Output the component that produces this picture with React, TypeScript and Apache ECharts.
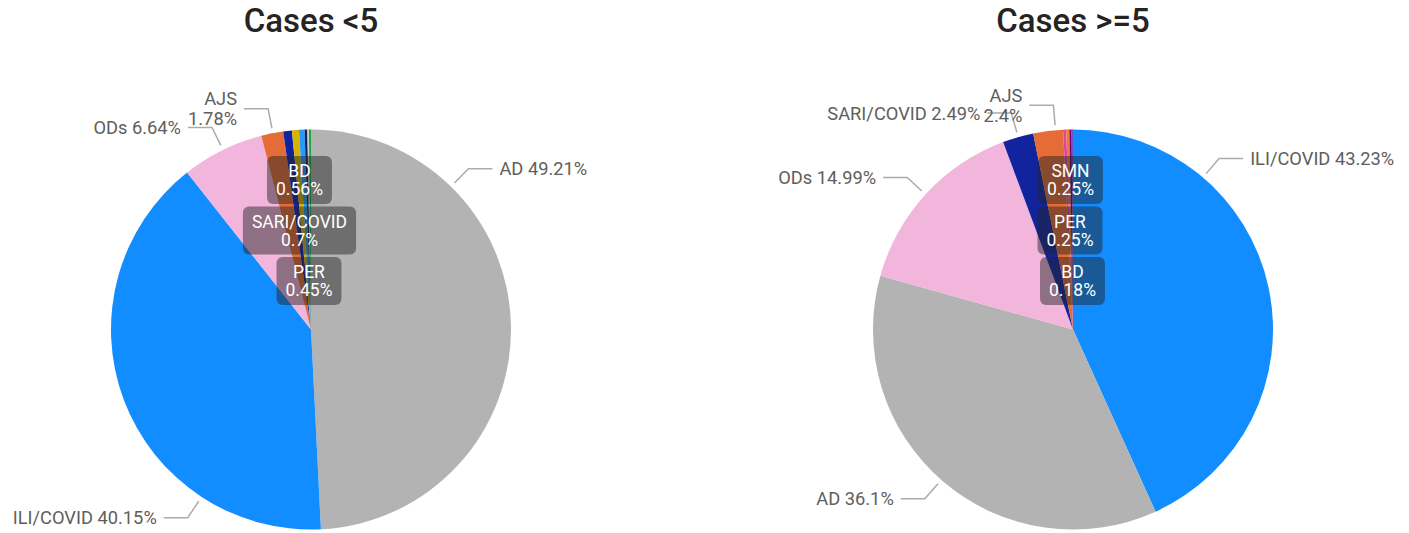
import React, { useEffect, useRef } from 'react';
import * as echarts from 'echarts';

// ---------- data ----------
const leftTitle = 'Cases <5';
const rightTitle = 'Cases >=5';

const leftNames = ['AD', 'ILI/COVID', 'ODs', 'AJS', 'SARI/COVID', 'BD', 'PER', 'SMN', 'NNT', 'AFP'];
const leftValues = [49.21, 40.15, 6.64, 1.78, 0.7, 0.56, 0.45, 0.22, 0.12, 0.17];
const leftColors = ['#B3B3B3', '#118DFF', '#F2B5DC', '#E66C37', '#12239E', '#D9B300', '#2A9BF5', '#1B1F5E', '#D0D0D0', '#1AAB40'];

const rightNames = ['ILI/COVID', 'AD', 'ODs', 'SARI/COVID', 'AJS', 'SMN', 'PER', 'BD', 'NNT'];
const rightValues = [43.23, 36.1, 14.99, 2.49, 2.4, 0.25, 0.25, 0.18, 0.11];
const rightColors = ['#118DFF', '#B3B3B3', '#F2B5DC', '#12239E', '#E66C37', '#E044A7', '#EE7B30', '#6B007B', '#744EC2'];

// ---------- layout ----------
type Spec =
  | { kind: 'out'; angle: number; side: 'left' | 'right'; wrap?: boolean }
  | { kind: 'box'; dx: number; dy: number };

const leftSpecs: Record<string, Spec> = {
  'AD': { kind: 'out', angle: 44.4, side: 'right' },
  'ILI/COVID': { kind: 'out', angle: 213.2, side: 'left' },
  'ODs': { kind: 'out', angle: 333.9, side: 'left' },
  'AJS': { kind: 'out', angle: 349, side: 'left', wrap: true },
  'BD': { kind: 'box', dx: -11.5, dy: -149.5 },
  'SARI/COVID': { kind: 'box', dx: -11.5, dy: -99 },
  'PER': { kind: 'box', dx: -2, dy: -48.5 },
};

const rightSpecs: Record<string, Spec> = {
  'ILI/COVID': { kind: 'out', angle: 40.5, side: 'right' },
  'AD': { kind: 'out', angle: 221.2, side: 'left' },
  'ODs': { kind: 'out', angle: 312.5, side: 'left' },
  'SARI/COVID': { kind: 'out', angle: 344.1, side: 'left' },
  'AJS': { kind: 'out', angle: 355, side: 'left', wrap: true },
  'SMN': { kind: 'box', dx: -2.5, dy: -149.5 },
  'PER': { kind: 'box', dx: -3, dy: -99 },
  'BD': { kind: 'box', dx: -0.5, dy: -48.5 },
};

const LEFT_CENTER = [311, 329.5];
const RIGHT_CENTER = [1073, 329.5];
const RADIUS = 200;
const ANCHOR_GAP = 5;
const ELBOW = 20;
const HLEN = 24;
const TEXT_GAP = 7;

const FONT = 'Roboto, "Noto Sans", sans-serif';
const LABEL_COLOR = '#605E5C';
const LABEL_SIZE = 18.3;

function buildData(names: string[], values: number[], colors: string[], specs: Record<string, Spec>) {
  return names.map((name, i) => {
    const spec = specs[name];
    const item: any = { name, value: values[i], itemStyle: { color: colors[i] } };
    if (!spec) {
      item.label = { show: false };
      item.labelLine = { show: false };
    } else if (spec.kind === 'box') {
      item.label = {
        show: true,
        position: 'inside',
        formatter: `${name}\n${values[i]}%`,
        color: '#FFFFFF',
        backgroundColor: 'rgba(35,35,35,0.48)',
        borderRadius: 6,
        padding: [6, 9, 6, 9],
        lineHeight: 18,
        fontSize: 17.5,
        fontFamily: FONT,
        align: 'center',
      };
      item.labelLine = { show: false };
    } else {
      item.label = {
        show: true,
        position: 'outside',
        formatter: spec.wrap ? `${name}\n${values[i]}%` : `${name} ${values[i]}%`,
        color: LABEL_COLOR,
        fontSize: LABEL_SIZE,
        lineHeight: 20,
        fontFamily: FONT,
      };
      item.labelLine = { show: true };
    }
    return item;
  });
}

function makeLabelLayout(names: string[], specs: Record<string, Spec>, center: number[]) {
  return (params: any) => {
    const spec = specs[names[params.dataIndex]];
    if (!spec) return {};
    const [cx, cy] = center;
    if (spec.kind === 'box') {
      return { x: cx + spec.dx, y: cy + spec.dy, align: 'center', verticalAlign: 'middle' };
    }
    const a = (spec.angle * Math.PI) / 180;
    const ux = Math.sin(a);
    const uy = -Math.cos(a);
    const p0 = [cx + ux * (RADIUS + ANCHOR_GAP), cy + uy * (RADIUS + ANCHOR_GAP)];
    const p1 = [p0[0] + ux * ELBOW, p0[1] + uy * ELBOW];
    const dir = spec.side === 'right' ? 1 : -1;
    const p2 = [p1[0] + dir * HLEN, p1[1]];
    return {
      x: p2[0] + dir * TEXT_GAP,
      y: p2[1],
      align: spec.side === 'right' ? 'left' : 'right',
      verticalAlign: 'middle',
      labelLinePoints: [p0, p1, p2],
    };
  };
}

function pieSeries(names: string[], values: number[], colors: string[], specs: Record<string, Spec>, center: number[]) {
  return {
    type: 'pie',
    center,
    radius: RADIUS,
    startAngle: 90,
    clockwise: true,
    avoidLabelOverlap: false,
    silent: true,
    itemStyle: { borderWidth: 0 },
    label: { show: false },
    labelLine: {
      show: false,
      length: ELBOW,
      length2: HLEN,
      lineStyle: { color: '#ABABAB', width: 1.5 },
    },
    labelLayout: makeLabelLayout(names, specs, center),
    data: buildData(names, values, colors, specs),
  };
}

export default function App() {
  const ref = useRef<HTMLDivElement>(null);
  useEffect(() => {
    if (!ref.current) return;
    const chart = echarts.init(ref.current, undefined, { renderer: 'svg' });
    const titleStyle = { fontFamily: FONT, fontSize: 33, fontWeight: 500, color: '#252423' };
    chart.setOption({
      animation: false,
      backgroundColor: '#FFFFFF',
      title: [
        { text: leftTitle, left: LEFT_CENTER[0], top: 4, textAlign: 'center', padding: 0, textStyle: titleStyle },
        { text: rightTitle, left: RIGHT_CENTER[0], top: 4, textAlign: 'center', padding: 0, textStyle: titleStyle },
      ],
      series: [
        pieSeries(leftNames, leftValues, leftColors, leftSpecs, LEFT_CENTER),
        pieSeries(rightNames, rightValues, rightColors, rightSpecs, RIGHT_CENTER),
      ],
    });
    return () => chart.dispose();
  }, []);
  return (
    <div
      ref={ref}
      style={{ position: 'absolute', left: 0, top: 0, width: 1409, height: 533, background: '#FFFFFF' }}
    />
  );
}
